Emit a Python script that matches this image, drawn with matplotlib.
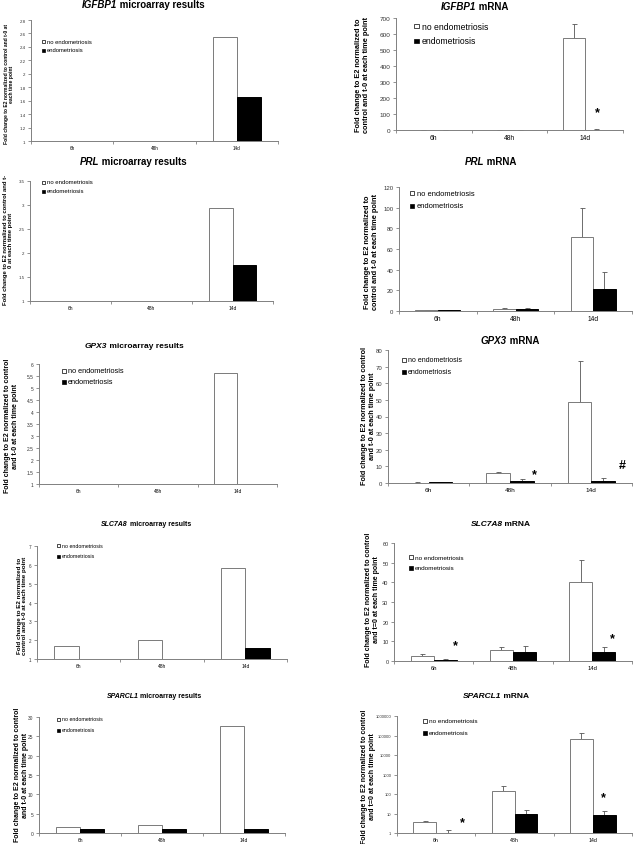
import numpy as np
import matplotlib
matplotlib.use("Agg")
from matplotlib import pyplot as plt
from matplotlib.patches import Rectangle

plt.rcParams["font.family"] = ["Liberation Sans", "DejaVu Sans"]

W, H = 639, 845

time_points = ["6h", "48h", "14d"]
legend_labels = ["no endometriosis", "endometriosis"]

# microarray fold change (white = no endometriosis, black = endometriosis)
igfbp1_array_no = [1.0, 1.0, 2.55]
igfbp1_array_endo = [1.0, 1.0, 1.65]
prl_array_no = [1.0, 1.0, 2.93]
prl_array_endo = [1.0, 1.0, 1.76]
gpx3_array_no = [1.0, 1.0, 5.63]
gpx3_array_endo = [1.0, 1.0, 1.0]
slc7a8_array_no = [1.68, 2.0, 5.84]
slc7a8_array_endo = [1.0, 1.0, 1.57]
sparcl1_array_no = [1.47, 2.16, 27.6]
sparcl1_array_endo = [0.95, 0.95, 0.95]

# qPCR mRNA, mean and upper error
igfbp1_mrna_no = [1.0, 1.5, 574]
igfbp1_mrna_no_err = [0.5, 0.8, 90]
igfbp1_mrna_endo = [0.8, 1.0, 3]
igfbp1_mrna_endo_err = [0.3, 0.4, 5]
prl_mrna_no = [0.5, 2.3, 71.4]
prl_mrna_no_err = [0.3, 0.9, 28.2]
prl_mrna_endo = [0.5, 2.0, 21]
prl_mrna_endo_err = [0.5, 0.6, 17]
gpx3_mrna_no = [0.3, 5.8, 48.5]
gpx3_mrna_no_err = [0.5, 0.6, 25]
gpx3_mrna_endo = [0.5, 1.4, 1.4]
gpx3_mrna_endo_err = [0.2, 0.8, 1.8]
slc7a8_mrna_no = [2.5, 5.6, 40.3]
slc7a8_mrna_no_err = [1.0, 1.4, 11.2]
slc7a8_mrna_endo = [0.5, 4.8, 4.6]
slc7a8_mrna_endo_err = [0.5, 2.9, 2.7]
sparcl1_mrna_no = [3.5, 139, 66000]
sparcl1_mrna_no_err = [0.5, 112, 74000]
sparcl1_mrna_endo = [1.04, 9.5, 8.4]
sparcl1_mrna_endo_err = [0.4, 5.8, 5.2]

# tick values
igfbp1_array_ticks = [1, 1.2, 1.4, 1.6, 1.8, 2, 2.2, 2.4, 2.6, 2.8]
prl_array_ticks = [1, 1.5, 2, 2.5, 3, 3.5]
gpx3_array_ticks = [1, 1.5, 2, 2.5, 3, 3.5, 4, 4.5, 5, 5.5, 6]
slc7a8_array_ticks = [1, 2, 3, 4, 5, 6, 7]
sparcl1_array_ticks = [0, 5, 10, 15, 20, 25, 30]
igfbp1_mrna_ticks = [0, 100, 200, 300, 400, 500, 600, 700]
prl_mrna_ticks = [0, 20, 40, 60, 80, 100, 120]
gpx3_mrna_ticks = [0, 10, 20, 30, 40, 50, 60, 70, 80]
slc7a8_mrna_ticks = [0, 10, 20, 30, 40, 50, 60]
sparcl1_mrna_ticks = [1, 10, 100, 1000, 10000, 100000, 1000000]

label_a = "Fold change to E2 normalized to control and t-0 at\neach time point"
label_b = "Fold change to E2 normalized to\ncontrol and t-0 at each time point"
label_c = "Fold change to E2 normalized to control and t-\n0 at each time point"
label_d = "Fold change to E2 normalized to control\nand t-0 at each time point"
label_e = "Fold change to E2 normalized to control\nand t=0 at each time point"

fig = plt.figure(figsize=(W / 100, H / 100), dpi=100)


def fx(x):
    return x / W


def fy(y):
    return 1 - y / H


def panel(box, no, endo, ticks, no_err=None, endo_err=None, log=False,
          tick_fs=4, cat_fs=4, marks=()):
    l, t, r, b = box
    ax = fig.add_axes([fx(l), fy(b), fx(r - l), (b - t) / H])
    x = np.arange(3)
    w = 0.29
    base = 1 if log else 0
    if log:
        ax.set_yscale("log")
    ax.bar(x - w / 2, np.array(no) - base, w, bottom=base, color="white",
           edgecolor="#7a7a7a", linewidth=0.7, zorder=2)
    ax.bar(x + w / 2, np.array(endo) - base, w, bottom=base, color="black",
           edgecolor="black", linewidth=0.7, zorder=2)
    if no_err is not None:
        ax.errorbar(x - w / 2, no, yerr=[np.zeros(3), no_err], fmt="none",
                    ecolor="#555555", elinewidth=0.6, capsize=1.8, capthick=0.6, zorder=1)
        ax.errorbar(x + w / 2, endo, yerr=[np.zeros(3), endo_err], fmt="none",
                    ecolor="#555555", elinewidth=0.6, capsize=1.8, capthick=0.6, zorder=1)
    for mx, my, s in marks:
        ax.text(mx, my, s, ha="center", va="center", fontsize=9, fontweight="bold")
    ax.set_xlim(-0.5, 2.5)
    ax.set_ylim(ticks[0], ticks[-1])
    ax.set_xticks([-0.5, 0.5, 1.5, 2.5])
    ax.set_xticklabels([])
    ax.set_xticks(x, minor=True)
    ax.set_xticklabels(time_points, minor=True, fontsize=cat_fs)
    ax.set_yticks(ticks)
    if log:
        ax.yaxis.set_minor_locator(matplotlib.ticker.NullLocator())
        ax.set_yticklabels([str(int(v)) for v in ticks], fontsize=tick_fs)
    else:
        ax.set_yticklabels([f"{v:g}" for v in ticks], fontsize=tick_fs)
    ax.tick_params(axis="x", which="minor", length=0, pad=3)
    ax.tick_params(axis="x", which="major", length=2.5, width=0.6, color="#808080")
    ax.tick_params(axis="y", length=2, width=0.6, color="#808080", pad=2,
                   labelcolor="#333333")
    for side in ("top", "right"):
        ax.spines[side].set_visible(False)
    for side in ("left", "bottom"):
        ax.spines[side].set_color("#808080")
        ax.spines[side].set_linewidth(0.7)
    return ax


def title(gene, rest, split, y, fs):
    fig.text(fx(split), fy(y), gene, ha="right", va="center", fontsize=fs,
             fontweight="bold", fontstyle="italic")
    fig.text(fx(split), fy(y), rest, ha="left", va="center", fontsize=fs,
             fontweight="bold")


def ylabel(text, x, y, fs):
    fig.text(fx(x), fy(y), text, rotation=90, ha="center", va="center",
             fontsize=fs, fontweight="bold", multialignment="center")


def legend(x, ys, fs, sq):
    for y, lab, col in zip(ys, legend_labels, ["white", "black"]):
        fig.patches.append(Rectangle((fx(x), fy(y + sq / 2)), sq / W, sq / H,
                                     transform=fig.transFigure, facecolor=col,
                                     edgecolor="black", linewidth=0.5))
        fig.text(fx(x + sq + 0.5 * fs), fy(y), lab, ha="left", va="center", fontsize=fs)


# IGFBP1
panel((31, 21, 278, 142), igfbp1_array_no, igfbp1_array_endo, igfbp1_array_ticks,
      tick_fs=3.2, cat_fs=3.3)
title("IGFBP1", " microarray results", 117, 5, 7)
ylabel(label_a, 9, 84, 3.6)
legend(42, (42, 51), 4.2, 3)

panel((396, 19, 623, 131), igfbp1_mrna_no, igfbp1_mrna_endo, igfbp1_mrna_ticks,
      igfbp1_mrna_no_err, igfbp1_mrna_endo_err, tick_fs=4.6, cat_fs=4.8,
      marks=[(2.16, 109, "*")])
title("IGFBP1", " mRNA", 476, 7, 7)
ylabel(label_b, 362, 75, 5.3)
legend(414, (27, 42), 6.2, 4.5)

# PRL
panel((30, 182, 273, 302), prl_array_no, prl_array_endo, prl_array_ticks,
      tick_fs=3.2, cat_fs=3.5)
title("PRL", " microarray results", 99, 162, 7)
ylabel(label_c, 8, 240, 4.2)
legend(42, (183, 192), 4.3, 3)

panel((399, 188, 632, 312), prl_mrna_no, prl_mrna_endo, prl_mrna_ticks,
      prl_mrna_no_err, prl_mrna_endo_err, tick_fs=4.3, cat_fs=4.8)
title("PRL", " mRNA", 484, 162, 7)
ylabel(label_b, 371, 252, 5.3)
legend(410, (194, 207), 5.4, 4)

# GPX3
panel((39, 365, 277, 485), gpx3_array_no, gpx3_array_endo, gpx3_array_ticks,
      tick_fs=3.5, cat_fs=3.5)
title("GPX3", " microarray results", 107, 347, 6)
ylabel(label_d, 12, 426, 5)
legend(62, (372, 383), 5.3, 3.5)

panel((388, 351, 632, 484), gpx3_mrna_no, gpx3_mrna_endo, gpx3_mrna_ticks,
      gpx3_mrna_no_err, gpx3_mrna_endo_err, tick_fs=4.3, cat_fs=4.6,
      marks=[(1.3, 5.6, "*"), (2.38, 10.6, "#")])
title("GPX3", " mRNA", 507, 341, 7)
ylabel(label_d, 368, 416, 5.2)
legend(402, (361, 373), 5, 3.5)

# SLC7A8
panel((37, 547, 287, 660), slc7a8_array_no, slc7a8_array_endo, slc7a8_array_ticks,
      tick_fs=3.3, cat_fs=3.5)
title("SLC7A8", " microarray results", 127.5, 524, 5)
ylabel(label_b, 22, 606, 4.5)
legend(57, (546, 557), 3.8, 3)

panel((394, 544, 632, 662), slc7a8_mrna_no, slc7a8_mrna_endo, slc7a8_mrna_ticks,
      slc7a8_mrna_no_err, slc7a8_mrna_endo_err, tick_fs=4, cat_fs=4.2,
      marks=[(0.27, 7.8, "*"), (2.25, 11.7, "*")])
title("SLC7A8", " mRNA", 502.5, 524, 6)
ylabel(label_e, 372, 600, 5)
legend(409, (558, 569), 4.6, 3.5)

# SPARCL1
panel((39, 718, 285, 834), sparcl1_array_no, sparcl1_array_endo, sparcl1_array_ticks,
      tick_fs=3.5, cat_fs=3.5)
title("SPARCL1", " microarray results", 138.5, 697, 5)
ylabel(label_d, 22, 775, 5)
legend(57, (720, 731), 3.8, 3)

panel((397, 717, 632, 834), sparcl1_mrna_no, sparcl1_mrna_endo, sparcl1_mrna_ticks,
      sparcl1_mrna_no_err, sparcl1_mrna_endo_err, log=True, tick_fs=3, cat_fs=3.8,
      marks=[(0.34, 3.8, "*"), (2.14, 68, "*")])
title("SPARCL1", " mRNA", 501, 697, 6)
ylabel(label_e, 369, 777, 5)
legend(423, (722, 734), 4.6, 3.5)

fig.savefig("out.png", dpi=100)
